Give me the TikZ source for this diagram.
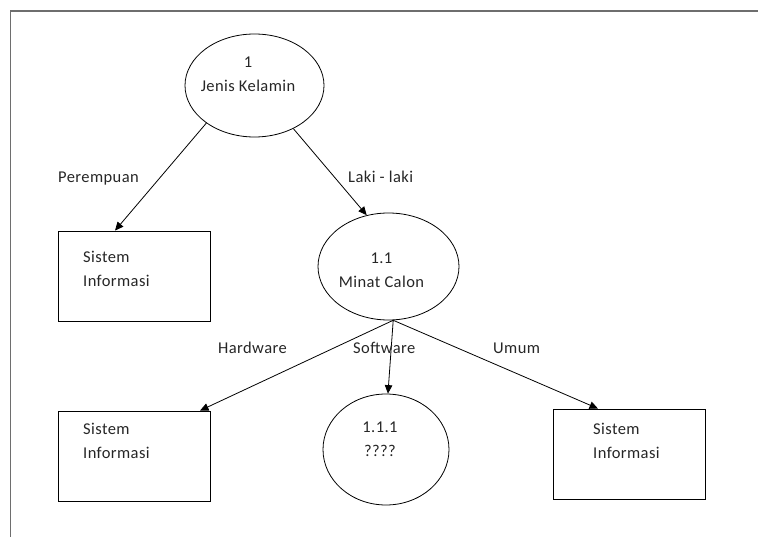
\documentclass[tikz,border=0pt]{standalone}
\usepackage{fontspec}
\setmainfont{Carlito}[LetterSpace=2.5]
\usetikzlibrary{arrows.meta,shapes.geometric}
\definecolor{framegray}{HTML}{6E6E6E}
\definecolor{inkgray}{HTML}{262626}
\begin{document}
\begin{tikzpicture}[x=1pt,y=-1pt,
  every node/.style={font=\fontsize{16.5}{24}\selectfont, text=inkgray, inner sep=0pt},
  proc/.style={draw, ellipse, line width=0.8pt},
  term/.style={draw, rectangle, line width=0.8pt, minimum width=152pt, minimum height=90pt},
  txt/.style={align=center, anchor=south},
  boxtxt/.style={align=left, anchor=south west},
  lbl/.style={anchor=base west},
  flow/.style={-{Triangle[length=8.5pt,width=7.5pt]}, line width=0.8pt}]
\useasboundingbox (0,0) rectangle (758,537);

% page frame
\draw[framegray, line width=1.6pt] (10.5,537) -- (10.5,11) -- (758,11);

% processes
\node[proc, minimum width=139pt, minimum height=103pt] (jk) at (254.5,85.5) {};
\node[proc, minimum width=141pt, minimum height=107pt] (mc) at (388.5,266.5) {};
\node[proc, minimum width=126pt, minimum height=111pt] (sw) at (386,449.5) {};
\node[txt] (jkt) at (248,92) {1\\Jenis Kelamin};
\node[txt] (mct) at (381.5,288) {1.1\\Minat Calon};
\node[txt] (swt) at (380,457) {1.1.1\\????};

% outcomes
\node[term] (box1) at (134,276) {};
\node[term] (box2) at (134,456) {};
\node[term] (box3) at (629,454) {};
\node[boxtxt] (b1t) at (83,287) {Sistem\\Informasi};
\node[boxtxt] (b2t) at (83,459) {Sistem\\Informasi};
\node[boxtxt] (b3t) at (593,459) {Sistem\\Informasi};

% branches
\draw[flow] (jk.218.6) -- ([xshift=-19pt]box1.north);
\draw[flow] (jk.312.4) -- (mc.113.7);
\draw[flow] (mc.275) -- ([xshift=66pt]box2.north);
\draw[flow] (mc.275) -- (sw.88);
\draw[flow] (mc.275) -- ([xshift=-31pt]box3.north);

% branch labels
\node[lbl] (l1) at (58,183) {Perempuan};
\node[lbl] (l2) at (348,183) {Laki - laki};
\node[lbl] (l3) at (218,354) {Hardware};
\node[lbl] (l4) at (353,354) {Software};
\node[lbl] (l5) at (493,354) {Umum};
\end{tikzpicture}
\end{document}
